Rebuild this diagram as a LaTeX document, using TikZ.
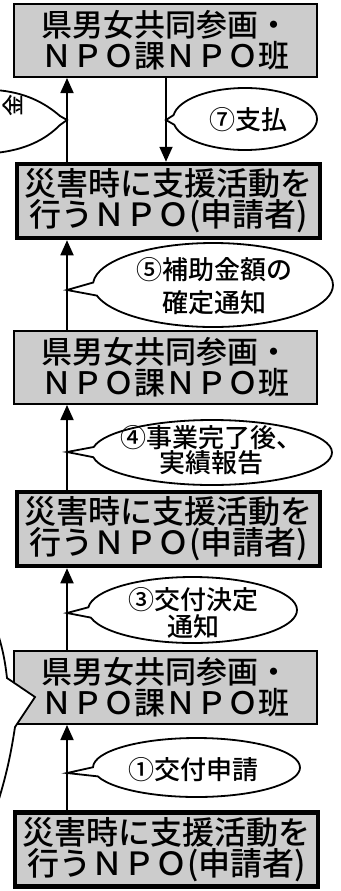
\documentclass[tikz,border=0pt]{standalone}
\usepackage{fontspec}
\newfontfamily\jp{Noto Sans CJK JP}[UprightFont={* Medium}]
\usetikzlibrary{shapes.callouts,arrows.meta}
\definecolor{boxgray}{gray}{0.8}
\begin{document}
\begin{tikzpicture}[x=1pt,y=-1pt,
  boxB/.style={draw,line width=2pt,fill=boxgray,minimum width=303pt,minimum height=73pt,inner sep=0pt,align=center,font=\jp\fontsize{31}{31}\selectfont},
  boxA/.style={boxB,line width=4.5pt,minimum width=303pt,minimum height=74pt,font=\jp\fontsize{32}{31}\selectfont},
  bubble/.style={ellipse callout,draw,line width=1.8pt,fill=white,inner sep=0pt,callout pointer arc=18},
  partial/.style={draw,line width=1.8pt,fill=white},
  btext/.style={align=center,inner sep=0pt,font=\jp\fontsize{26}{27}\selectfont},
  flow/.style={line width=1.8pt,-{Triangle[length=15pt,width=13pt]}}
]
\useasboundingbox (0,0) rectangle (340,891);
\clip (0,0) rectangle (340,891);
% boxes
\node[boxB] (b3) at (165.5,40.5) {県男女共同参画・\\ＮＰＯ課ＮＰＯ班};
\node[boxA] (a3) at (168.5,201) {災害時に支援活動を\\行うＮＰＯ(申請者)};
\node[boxB] (b2) at (165.5,367.5) {県男女共同参画・\\ＮＰＯ課ＮＰＯ班};
\node[boxA] (a2) at (168.5,529) {災害時に支援活動を\\行うＮＰＯ(申請者)};
\node[boxB] (b1) at (165.5,687.5) {県男女共同参画・\\ＮＰＯ課ＮＰＯ班};
\node[boxA] (a1) at (166.5,849.5) {災害時に支援活動を\\行うＮＰＯ(申請者)};
% pointer coordinates
\coordinate (ax) at (67,0);
\coordinate (bx) at (166,0);
\coordinate (p1) at (67,773);
\coordinate (p2) at (35,697);
\coordinate (p3) at (67,613);
\coordinate (p4) at (67,452);
\coordinate (p5) at (67,290);
\coordinate (p6) at (67,120);
\coordinate (p7) at (166,120);
% partly visible callouts (bodies lie outside the frame)
\path[partial] (-5,625) .. controls (2,645) and (5,660) .. (7,678) -- (p2) -- (15,727) .. controls (10,760) and (5,780) .. (-5,812) -- cycle;
\path[partial] (-5,90) .. controls (25,92) and (45,103) .. (60,116) -- (p6) -- (60,125) .. controls (45,140) and (25,150) .. (-5,153) -- cycle;
\node[inner sep=0pt,rotate=90,font=\jp\fontsize{22}{22}\selectfont] (t6) at (13,105) {金};
% callouts
\node[bubble,minimum width=207pt,minimum height=59pt,callout absolute pointer=(p1)] (c1) at (196.5,767.5) {};
\node[btext] (t1) at (193,770) {①交付申請};
\node[bubble,minimum width=209pt,minimum height=66pt,callout absolute pointer=(p3)] (c3) at (192.5,610) {};
\node[btext] (t3) at (193,613) {③交付決定\\通知};
\node[bubble,minimum width=240pt,minimum height=65pt,callout absolute pointer=(p4)] (c4) at (212,452.5) {};
\node[btext,font=\jp\fontsize{26}{25}\selectfont] (t4) at (211,450) {④事業完了後、\\実績報告};
\node[bubble,minimum width=240pt,minimum height=84pt,callout absolute pointer=(p5)] (c5) at (213,285) {};
\node[btext,font=\jp\fontsize{26}{33}\selectfont] (t5) at (214,286) {⑤補助金額の\\確定通知};
\node[bubble,minimum width=144pt,minimum height=62pt,callout absolute pointer=(p7)] (c7) at (245,119) {};
\node[btext] (t7) at (248,120) {⑦支払};
% arrows
\draw[flow] (a1.north -| ax) -- (b1.south -| ax);
\draw[flow] (b1.north -| ax) -- (a2.south -| ax);
\draw[flow] (a2.north -| ax) -- (b2.south -| ax);
\draw[flow] (b2.north -| ax) -- (a3.south -| ax);
\draw[flow] (a3.north -| ax) -- (b3.south -| ax);
\draw[flow] (b3.south -| bx) -- (a3.north -| bx);
\end{tikzpicture}
\end{document}
